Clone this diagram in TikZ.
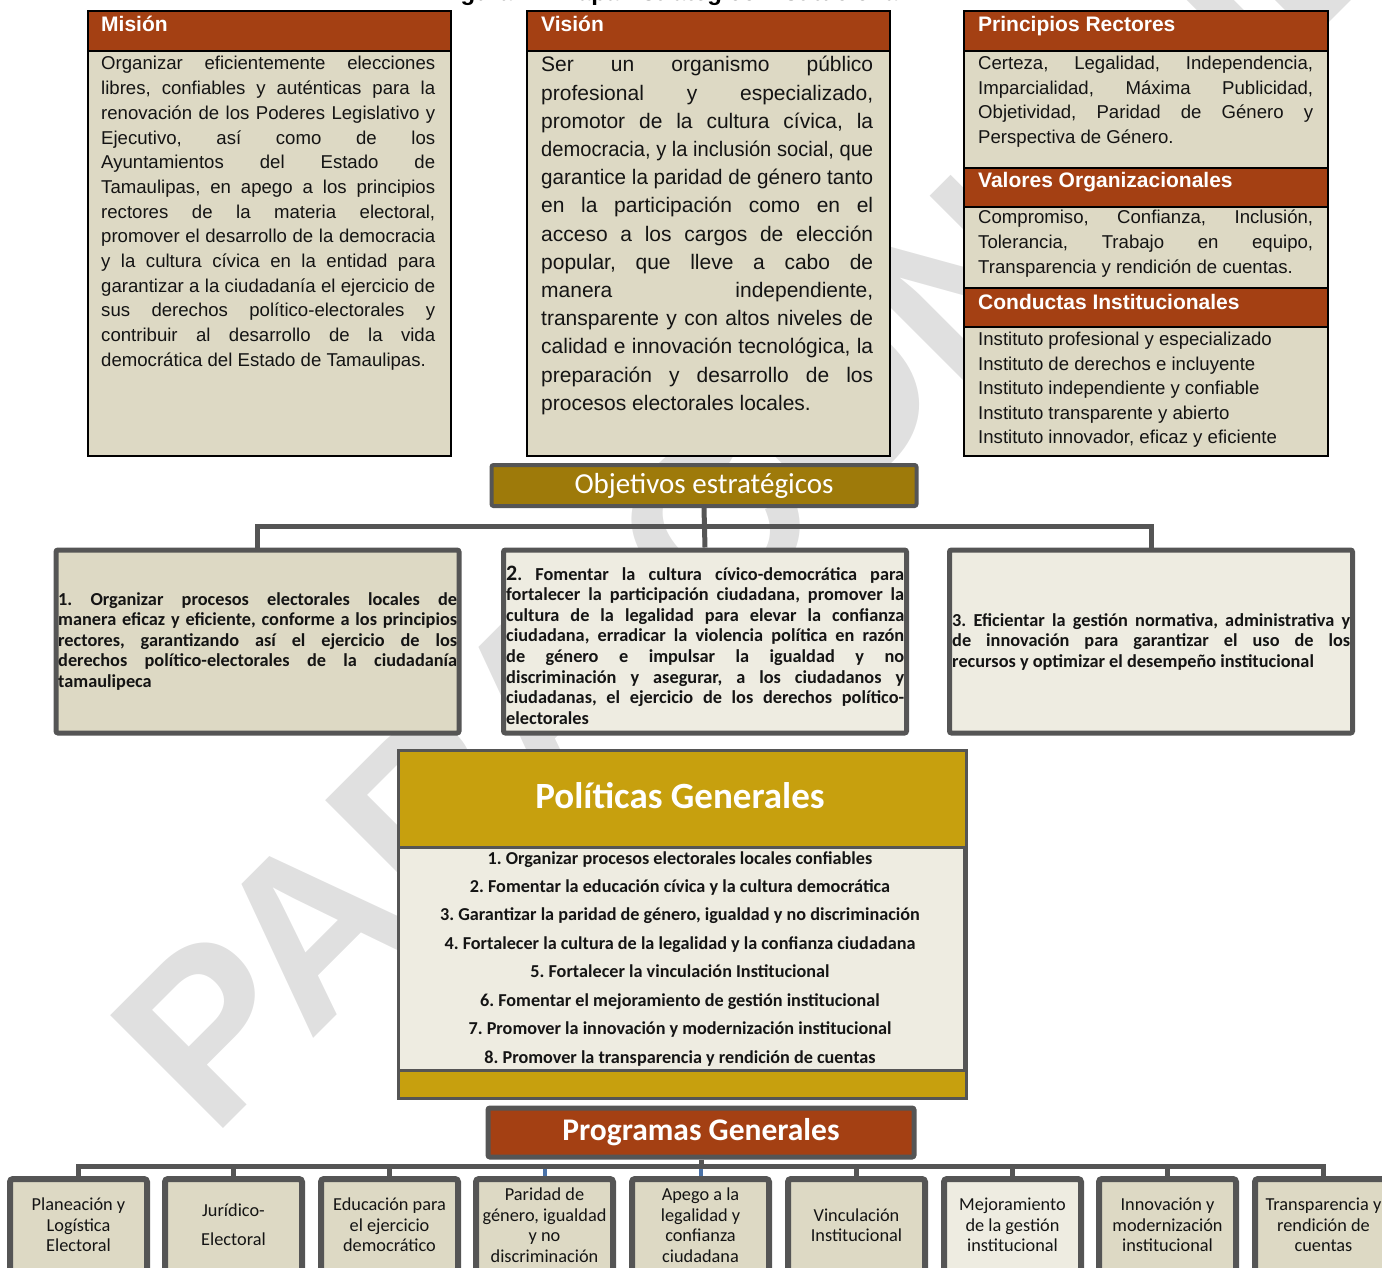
\documentclass[tikz,border=0pt]{standalone}
\usepackage{fontspec}
\setmainfont{Liberation Sans}
\newfontfamily\calib{Carlito}
\usepackage{graphicx}
\frenchspacing
\definecolor{rust}{RGB}{164,64,19}
\definecolor{beige}{RGB}{221,217,196}
\definecolor{light}{RGB}{238,236,225}
\definecolor{olive}{RGB}{158,122,10}
\definecolor{gold}{RGB}{199,160,14}
\definecolor{gbord}{RGB}{85,85,85}
\definecolor{wmark}{RGB}{224,224,224}
\definecolor{bluel}{RGB}{74,114,168}
\definecolor{ink}{RGB}{20,20,20}
\newsavebox\jlbox
\newcommand\jl[2]{\sbox\jlbox{#2}\ifdim\wd\jlbox>#1\relax\resizebox{#1}{\height}{\usebox\jlbox}\else\makebox[#1][s]{#2}\fi}
\tikzset{
  hdr/.style={fill=rust, draw=black, line width=2pt, inner sep=0, anchor=north west},
  bodybox/.style={fill=beige, draw=black, line width=2pt, inner sep=0, anchor=north west},
  htxt/.style={text=white, font=\fontsize{21}{25}\selectfont\bfseries, anchor=base west, inner sep=0},
  mtxt/.style={anchor=base west, inner sep=0, text=ink},
  objbox/.style={draw=gbord, line width=5pt, rounded corners=2pt, inner sep=0, minimum width=403pt, minimum height=183pt},
  otxt/.style={anchor=base west, inner sep=0, text=ink, font=\calib\bfseries\fontsize{18.3}{20.6}\selectfont},
  prog/.style={draw=gbord, line width=6pt, fill=beige, rounded corners=3pt, minimum width=137pt, minimum height=130pt, anchor=north, inner sep=0},
  ptxt/.style={font=\calib\fontsize{18.3}{20.5}\selectfont, align=center, text=ink, inner sep=0},
  conn/.style={draw=gbord, line width=5pt},
}
\begin{document}
\frenchspacing
\begin{tikzpicture}[x=1pt,y=-1pt]
\useasboundingbox (0,0) rectangle (1382,1268);
\clip (0,0) rectangle (1382,1268);
% watermark
\node[rotate=45, anchor=base west, inner sep=0, text=wmark, font=\bfseries\fontsize{232}{232}\selectfont] (wm) at (212,1140) {PARA CONSULTA};
% title (cut at top)
\node[anchor=base, inner sep=0, font=\bfseries\fontsize{24}{24}\selectfont] (title) at (672,0.5) {Figura 11. Mapa Estratégico Institucional};
% ---- Mision
\node[bodybox, minimum width=363pt, minimum height=445pt] (mbody) at (87,10) {};
\node[hdr, minimum width=363pt, minimum height=40pt] (mhead) at (87,10) {};
\node[htxt] (mht) at (101,32) {Misión};
\node[mtxt, font=\fontsize{18.6}{24.7}\selectfont] (mtx) at (101,70) {\parbox[t]{334pt}{%
\jl{334pt}{Organizar eficientemente elecciones}\\
\jl{334pt}{libres, confiables y auténticas para la}\\
\jl{334pt}{renovación de los Poderes Legislativo y}\\
\jl{334pt}{Ejecutivo, así como de los}\\
\jl{334pt}{Ayuntamientos del Estado de}\\
\jl{334pt}{Tamaulipas, en apego a los principios}\\
\jl{334pt}{rectores de la materia electoral,}\\
\jl{334pt}{promover el desarrollo de la democracia}\\
\jl{334pt}{y la cultura cívica en la entidad para}\\
\jl{334pt}{garantizar a la ciudadanía el ejercicio de}\\
\jl{334pt}{sus derechos político-electorales y}\\
\jl{334pt}{contribuir al desarrollo de la vida}\\
democrática del Estado de Tamaulipas.}};
% ---- Vision
\node[bodybox, minimum width=363pt, minimum height=445pt] (vbody) at (526,10) {};
\node[hdr, minimum width=363pt, minimum height=40pt] (vhead) at (526,10) {};
\node[htxt] (vht) at (541,32) {Visión};
\node[mtxt, font=\fontsize{21}{28.2}\selectfont] (vtx) at (541,72) {\parbox[t]{332pt}{%
\jl{332pt}{Ser un organismo público}\\
\jl{332pt}{profesional y especializado,}\\
\jl{332pt}{promotor de la cultura cívica, la}\\
\jl{332pt}{democracia, y la inclusión social, que}\\
\jl{332pt}{garantice la paridad de género tanto}\\
\jl{332pt}{en la participación como en el}\\
\jl{332pt}{acceso a los cargos de elección}\\
\jl{332pt}{popular, que lleve a cabo de}\\
\jl{332pt}{manera independiente,}\\
\jl{332pt}{transparente y con altos niveles de}\\
\jl{332pt}{calidad e innovación tecnológica, la}\\
\jl{332pt}{preparación y desarrollo de los}\\
procesos electorales locales.}};
% ---- Principios / Valores / Conductas
\node[bodybox, minimum width=364pt, minimum height=445pt] (pbody) at (963,10) {};
\node[hdr, minimum width=364pt, minimum height=40pt] (phead) at (963,10) {};
\node[hdr, minimum width=364pt, minimum height=39pt] (vohead) at (963,167) {};
\node[hdr, minimum width=364pt, minimum height=39pt] (cohead) at (963,287) {};
\node[htxt] (pht) at (978,32) {Principios Rectores};
\node[htxt] (voht) at (978,188) {Valores Organizacionales};
\node[htxt] (coht) at (978,309) {Conductas Institucionales};
\node[mtxt, font=\fontsize{18.6}{24.7}\selectfont] (ptx) at (978,69.5) {\parbox[t]{335pt}{%
\jl{335pt}{Certeza, Legalidad, Independencia,}\\
\jl{335pt}{Imparcialidad, Máxima Publicidad,}\\
\jl{335pt}{Objetividad, Paridad de Género y}\\
Perspectiva de Género.}};
\node[mtxt, font=\fontsize{18.6}{24.7}\selectfont] (votx) at (978,224) {\parbox[t]{335pt}{%
\jl{335pt}{Compromiso, Confianza, Inclusión,}\\
\jl{335pt}{Tolerancia, Trabajo en equipo,}\\
Transparencia y rendición de cuentas.}};
\node[mtxt, font=\fontsize{18.6}{24.6}\selectfont] (cotx) at (978,345.5) {\parbox[t]{345pt}{%
Instituto profesional y especializado\\
Instituto de derechos e incluyente\\
Instituto independiente y confiable\\
Instituto transparente y abierto\\
Instituto innovador, eficaz y eficiente}};
% ---- Objetivos estrategicos
\node[draw=gbord, line width=4pt, fill=olive, rounded corners=2pt, minimum width=425pt, minimum height=41pt, inner sep=0, text=white, font=\calib\fontsize{29}{32}\selectfont] (obj) at (704,485.5) {Objetivos estratégicos};
\node[objbox, fill=beige] (o1) at (257.5,641.5) {};
\node[objbox, fill=light] (o2) at (705,641.5) {};
\node[objbox, fill=light] (o3) at (1151,641.5) {};
\draw[conn] (o1.north) -- ++(0,-21) -| (o3.north);
\draw[conn] (obj.south) -- (o2.north);
\node[otxt] (o1t) at (58,605) {\parbox[t]{399pt}{%
\jl{399pt}{1. Organizar procesos electorales locales de}\\
\jl{399pt}{manera eficaz y eficiente, conforme a los principios}\\
\jl{399pt}{rectores, garantizando así el ejercicio de los}\\
\jl{399pt}{derechos político-electorales de la ciudadanía}\\
tamaulipeca}};
\node[otxt] (o2t) at (506,580) {\parbox[t]{398pt}{%
\jl{398pt}{{\fontsize{22}{22}\selectfont 2}. Fomentar la cultura cívico-democrática para}\\
\jl{398pt}{fortalecer la participación ciudadana, promover la}\\
\jl{398pt}{cultura de la legalidad para elevar la confianza}\\
\jl{398pt}{ciudadana, erradicar la violencia política en razón}\\
\jl{398pt}{de género e impulsar la igualdad y no}\\
\jl{398pt}{discriminación y asegurar, a los ciudadanos y}\\
\jl{398pt}{ciudadanas, el ejercicio de los derechos político-}\\
electorales}};
\node[otxt] (o3t) at (952,626) {\parbox[t]{398pt}{%
\jl{398pt}{3. Eficientar la gestión normativa, administrativa y}\\
\jl{398pt}{de innovación para garantizar el uso de los}\\
recursos y optimizar el desempeño institucional}};
% ---- Politicas generales
\node[draw=gbord, line width=3pt, fill=gold, minimum width=568pt, minimum height=348pt, anchor=north west, inner sep=0] (pol) at (397,749) {};
\node[draw=gbord, line width=3pt, fill=light, minimum width=566pt, minimum height=223pt, anchor=north west, inner sep=0] (polin) at (397,846) {};
\node[text=white, inner sep=0, font=\calib\bfseries\fontsize{37}{40}\selectfont] (polt) at (680,796) {Políticas Generales};
\node[anchor=base, inner sep=0, text=ink, font=\calib\bfseries\fontsize{18.2}{28.45}\selectfont] (polx) at (680,864) {\parbox[t]{560pt}{\centering
1. Organizar procesos electorales locales confiables\\
2. Fomentar la educación cívica y la cultura democrática\\
3. Garantizar la paridad de género, igualdad y no discriminación\\
4. Fortalecer la cultura de la legalidad y la confianza ciudadana\\
5. Fortalecer la vinculación Institucional\\
6. Fomentar el mejoramiento de gestión institucional\\
7. Promover la innovación y modernización institucional\\
8. Promover la transparencia y rendición de cuentas}};
% ---- Programas generales
\node[draw=gbord, line width=5pt, fill=rust, rounded corners=2pt, minimum width=426pt, minimum height=49pt, inner sep=0, text=white, font=\calib\bfseries\fontsize{31.5}{34}\selectfont] (pg) at (701,1132.5) {Programas Generales};
\coordinate (bar) at (701,1166);
\node[prog] (p1) at (78.5,1176) {};
\node[prog] (p2) at (233.5,1176) {};
\node[prog] (p3) at (389.5,1176) {};
\node[prog] (p4) at (544.5,1176) {};
\node[prog] (p5) at (700.5,1176) {};
\node[prog] (p6) at (856.5,1176) {};
\node[prog, fill=light] (p7) at (1012.5,1176) {};
\node[prog] (p8) at (1167.5,1176) {};
\node[prog] (p9) at (1323.5,1176) {};
\draw[conn] (pg.south) -- (pg.south |- bar);
\draw[conn] (p1.north) -- (p1.north |- bar) -| (p9.north);
\foreach \n in {p2,p3,p6,p7,p8}{\draw[conn] (\n.north) -- (\n.north |- bar);}
\foreach \n in {p4,p5}{\draw[draw=bluel, line width=4pt] (\n.north) -- ([yshift=-2.5pt]\n.north |- bar);}
\node[ptxt] (t1) at (78.5,1225) {Planeación y\\Logística\\Electoral};
\node[ptxt] (t2) at (233.5,1225) {Jurídico-\\[8.5pt]Electoral};
\node[ptxt] (t3) at (389.5,1225) {Educación para\\el ejercicio\\democrático};
\node[ptxt] (t4) at (544.5,1225) {Paridad de\\género, igualdad\\y no\\discriminación};
\node[ptxt] (t5) at (700.5,1225) {Apego a la\\legalidad y\\confianza\\ciudadana};
\node[ptxt] (t6) at (856.5,1225) {Vinculación\\Institucional};
\node[ptxt] (t7) at (1012.5,1225) {Mejoramiento\\de la gestión\\institucional};
\node[ptxt] (t8) at (1167.5,1225) {Innovación y\\modernización\\institucional};
\node[ptxt] (t9) at (1323.5,1225) {Transparencia y\\rendición de\\cuentas};
\end{tikzpicture}
\end{document}
